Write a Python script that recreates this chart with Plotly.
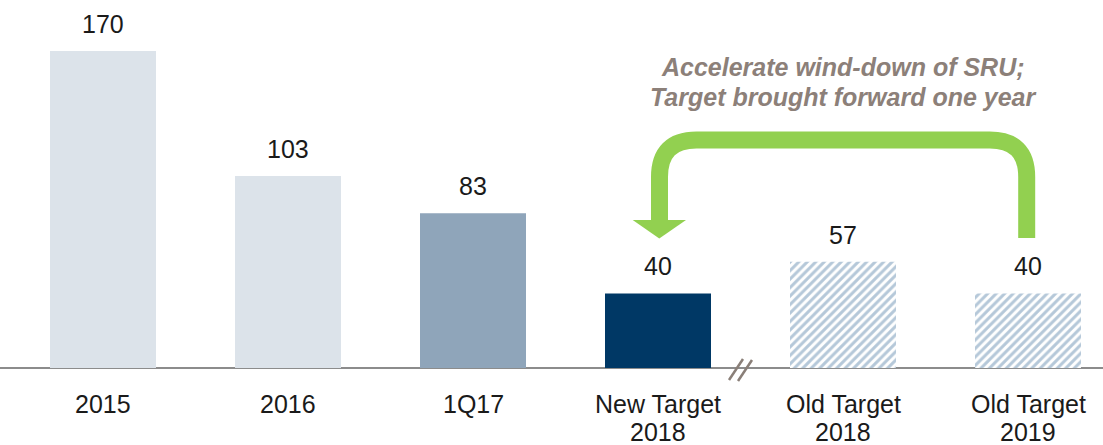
import plotly.graph_objects as go

categories = ["2015", "2016", "1Q17", "New Target<br>2018", "Old Target<br>2018", "Old Target<br>2019"]
values = [170, 103, 83, 40, 57, 40]
value_labels = ["170", "103", "83", "40", "57", "40"]
colors = ["#dce3ea", "#dce3ea", "#8fa5ba", "#003865", "#b5c8d9", "#b5c8d9"]
hatched = [False, False, False, False, True, True]
title_lines = ["Accelerate wind-down of SRU;", "Target brought forward one year"]

FONT = "Helvetica Neue, Liberation Sans, Arial, sans-serif"

# pixel-to-data helpers for decorations (plot area spans the full width)
X0_PX, DX_PX = 103.0, 185.0
Y0_PX, DY_PX = 368.0, 1.865
def dx(px):
    return (px - X0_PX) / DX_PX
def dy(py):
    return (Y0_PX - py) / DY_PX
def px_paper(px):
    return px / 1103.0
def py_paper(py):
    return (Y0_PX - py) / Y0_PX

xs = list(range(len(categories)))

fig = go.Figure()
solid_x = [x for x, h in zip(xs, hatched) if not h]
fig.add_trace(go.Bar(
    x=solid_x, y=[values[i] for i in solid_x], width=0.573,
    marker=dict(color=[colors[i] for i in solid_x], line=dict(width=0)),
    hoverinfo="skip",
))
hatch_x = [x for x, h in zip(xs, hatched) if h]
fig.add_trace(go.Bar(
    x=hatch_x, y=[values[i] for i in hatch_x], width=0.573,
    marker=dict(
        color="white", line=dict(width=0),
        pattern=dict(shape="/", fgcolor=colors[hatch_x[0]], bgcolor="white",
                     size=6, solidity=0.5, fillmode="replace"),
    ),
    hoverinfo="skip",
))

annotations = []
for x, v, lab in zip(xs, values, value_labels):
    annotations.append(dict(x=x, y=v, text=lab, showarrow=False, yanchor="middle",
                            yshift=27, font=dict(size=25, color="#1a1a1a", family=FONT)))
# category labels, one annotation per line for exact line spacing
for x, cat in zip(xs, categories):
    for k, line in enumerate(cat.split("<br>")):
        annotations.append(dict(x=x, y=0, xref="x", yref="y", text=line, showarrow=False,
                                yanchor="middle", yshift=-(36 + 28 * k),
                                font=dict(size=25, color="#1a1a1a", family=FONT)))
for k, line in enumerate(title_lines):
    annotations.append(dict(
        x=dx(843), y=dy(67 + 30 * k), xref="x", yref="y",
        text=f"<b><i>{line}</i></b>", showarrow=False, yanchor="middle",
        font=dict(size=25, color="#8c8079", family=FONT),
    ))

# Green bent arrow
xl, xr = 659.5, 1026.7
yh = 140.0
ybot = 238.0
yhead = 220.0
r = 37.0
path = (f"M {dx(xr)},{dy(ybot)} L {dx(xr)},{dy(yh + r)} "
        f"Q {dx(xr)},{dy(yh)} {dx(xr - r)},{dy(yh)} "
        f"L {dx(xl + r)},{dy(yh)} "
        f"Q {dx(xl)},{dy(yh)} {dx(xl)},{dy(yh + r)} "
        f"L {dx(xl)},{dy(yhead + 1)}")
shapes = [
    dict(type="path", path=path, xref="x", yref="y",
         line=dict(color="#92d050", width=17), fillcolor="rgba(0,0,0,0)"),
    dict(type="path", xref="x", yref="y",
         path=f"M {dx(632.7)},{dy(yhead)} L {dx(686)},{dy(yhead)} L {dx(659.3)},{dy(238.5)} Z",
         line=dict(width=0), fillcolor="#92d050"),
    # axis break marks (paper refs so they are not clipped below the axis)
    dict(type="line", xref="paper", yref="paper",
         x0=px_paper(729), y0=py_paper(380), x1=px_paper(743), y1=py_paper(359),
         line=dict(color="#8a7f78", width=2.5)),
    dict(type="line", xref="paper", yref="paper",
         x0=px_paper(738), y0=py_paper(381), x1=px_paper(752), y1=py_paper(360),
         line=dict(color="#8a7f78", width=2.5)),
]

fig.update_layout(
    width=1103, height=445,
    margin=dict(l=0, r=0, t=0, b=77),
    paper_bgcolor="white", plot_bgcolor="white",
    showlegend=False,
    annotations=annotations,
    shapes=shapes,
    barmode="overlay",
    xaxis=dict(
        range=[dx(0), dx(1103)], showticklabels=False,
        showgrid=False, zeroline=False, showline=False, ticks="",
    ),
    yaxis=dict(
        range=[0, dy(0)], showgrid=False, zeroline=True, zerolinecolor="#8c8c8c",
        zerolinewidth=2, showticklabels=False, showline=False, ticks="",
    ),
)

fig.write_html("out.html", config={"displayModeBar": False},
               post_script="document.body.style.margin='0';document.body.style.padding='0';")
